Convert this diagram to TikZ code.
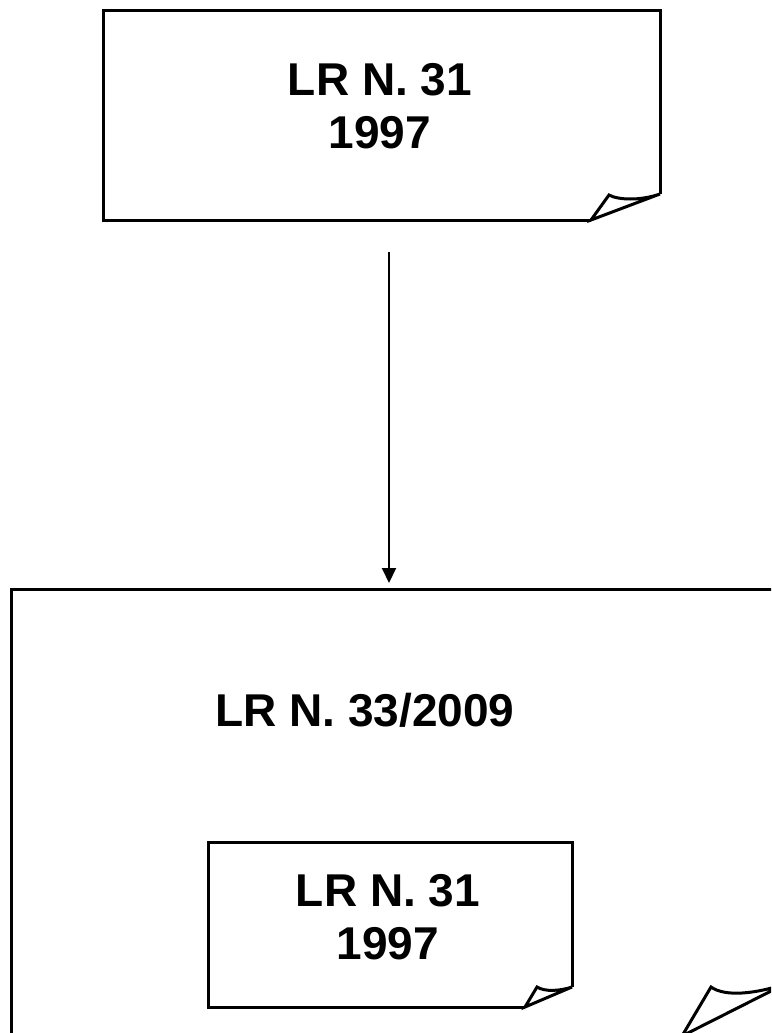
\documentclass[tikz,border=0pt]{standalone}
\usepackage{fontspec}
\setmainfont{Liberation Sans}
\usetikzlibrary{arrows.meta}

\begin{document}
\begin{tikzpicture}[x=1pt,y=-1pt,
    paper/.style={line width=3pt, line join=miter},
    law/.style={font=\fontsize{46}{53}\selectfont\bfseries, align=center, inner sep=0pt},
    link/.style={line width=2pt, -{Triangle[width=14pt,length=15pt]}}]
    \useasboundingbox (0,0) rectangle (771,1033);
    \clip (0,0) rectangle (771,1033);
    % old law sheet
    \draw[paper] (591,220) -- (103,220) -- (103,11) -- (660,11) -- (660,194);
    \draw[paper] (591,220) -- (660,194) .. controls (640,201) and (618,200) .. (609,195) -- cycle;
    \node[law] (old) at (380,106) {LR N. 31\\1997};
    % arrow down
    \coordinate (from) at (389,252);
    \coordinate (to) at (389,583);
    \draw[link] (from) -- (to);
    % new law sheet, runs off the page
    \draw[paper] (682,1036) -- (11,1036) -- (11,589) -- (785,589) -- (785,984);
    \draw[paper] (682,1036) -- (785,984) .. controls (755,994) and (725,997) .. (711,987) -- cycle;
    \node[law, anchor=base] (new) at (365,726) {LR N. 33/2009};
    % old law inside
    \draw[paper] (525,1007) -- (208,1007) -- (208,842) -- (572,842) -- (572,987);
    \draw[paper] (525,1007) -- (572,987) .. controls (560,991) and (545,992) .. (537,987) -- cycle;
    \node[law] (inner) at (388,917) {LR N. 31\\1997};
\end{tikzpicture}
\end{document}
